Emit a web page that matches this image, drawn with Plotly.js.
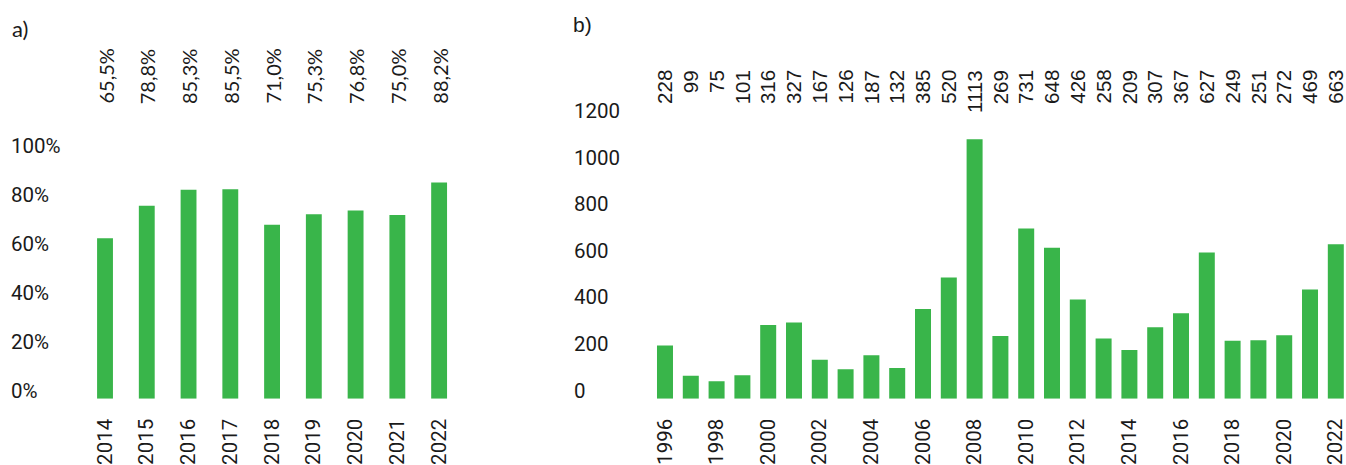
<!DOCTYPE html>
<html>
<head>
<meta charset="utf-8">
<script src="https://cdn.plot.ly/plotly-3.0.1.min.js"></script>
<style>
  html, body { margin: 0; padding: 0; background: #ffffff; }
  #chart { width: 1346px; height: 465px; }
</style>
</head>
<body>
<div id="chart"></div>
<script>
// ---- Data ----
const yearsA = [2014, 2015, 2016, 2017, 2018, 2019, 2020, 2021, 2022];
const sharesA = [65.5, 78.8, 85.3, 85.5, 71.0, 75.3, 76.8, 75.0, 88.2];

const yearsB = [1996, 1997, 1998, 1999, 2000, 2001, 2002, 2003, 2004, 2005,
                2006, 2007, 2008, 2009, 2010, 2011, 2012, 2013, 2014, 2015,
                2016, 2017, 2018, 2019, 2020, 2021, 2022];
const countsB = [228, 99, 75, 101, 316, 327, 167, 126, 187, 132,
                 385, 520, 1113, 269, 731, 648, 426, 258, 209, 307,
                 367, 627, 249, 251, 272, 469, 663];
const tickYearsB = [1996, 1998, 2000, 2002, 2004, 2006, 2008, 2010, 2012,
                    2014, 2016, 2018, 2020, 2022];

const panelLabels = ['a)', 'b)'];

// ---- Styles ----
const GREEN = '#39b54a';
const TEXT = '#1a1a1a';
const TICK_FONT = { family: 'Roboto, sans-serif', size: 20.5, color: TEXT };

const fmtPct = v => v.toFixed(1).replace('.', ',') + '%';

const traces = [
  {
    type: 'bar', x: yearsA, y: sharesA, xaxis: 'x', yaxis: 'y',
    marker: { color: GREEN }, width: 0.38, hoverinfo: 'skip'
  },
  {
    type: 'bar', x: yearsB, y: countsB, xaxis: 'x2', yaxis: 'y2',
    marker: { color: GREEN }, width: 0.62, hoverinfo: 'skip'
  }
];

const annotations = [];
yearsA.forEach((yr, i) => {
  annotations.push({
    x: yr, y: 0.772, xref: 'x', yref: 'paper',
    text: fmtPct(sharesA[i]), textangle: -90, showarrow: false,
    xanchor: 'center', yanchor: 'bottom',
    font: { family: 'Lato, sans-serif', size: 20, color: TEXT }
  });
});
yearsB.forEach((yr, i) => {
  annotations.push({
    x: yr, y: 0.854, xref: 'x2', yref: 'paper',
    text: String(countsB[i]), textangle: -90, showarrow: false,
    xanchor: 'center', yanchor: 'top',
    font: { family: 'Liberation Sans, Arial, sans-serif', size: 20.5, color: TEXT }
  });
});
annotations.push({
  x: 0.0074, y: 1 - 13 / 465, xref: 'paper', yref: 'paper', xanchor: 'left', yanchor: 'top',
  text: panelLabels[0], showarrow: false,
  font: { family: 'Lato, sans-serif', size: 22, color: TEXT }
});
annotations.push({
  x: 571 / 1346, y: 1 - 11 / 465, xref: 'paper', yref: 'paper', xanchor: 'left', yanchor: 'top',
  text: panelLabels[1], showarrow: false,
  font: { family: 'Liberation Sans, Arial, sans-serif', size: 21, color: TEXT }
});

const yBottom = (465 - 398.7) / 465;

const layout = {
  width: 1346, height: 465,
  margin: { l: 0, r: 0, t: 0, b: 0, pad: 0 },
  paper_bgcolor: 'rgba(0,0,0,0)', plot_bgcolor: 'rgba(0,0,0,0)',
  showlegend: false,
  xaxis: {
    domain: [8 / 1346, 460 / 1346], anchor: 'y',
    range: [2014 - 2.323, 2022.5],
    tickmode: 'array', tickvals: yearsA, ticklabeloverflow: 'allow',
    tickangle: -90, tickfont: TICK_FONT, ticks: '', showgrid: false,
    zeroline: false, showline: false, ticklabelstandoff: 15
  },
  yaxis: {
    domain: [yBottom, (465 - 115) / 465], anchor: 'x',
    range: [0, (398.7 - 115) / 2.45],
    tickmode: 'linear', tick0: 0, dtick: 20, ticksuffix: '%',
    ticklabelposition: 'inside top', ticklabelshift: 6, ticklabeloverflow: 'allow',
    tickfont: TICK_FONT, ticks: '',
    showgrid: false, zeroline: false, showline: false
  },
  xaxis2: {
    domain: [571 / 1346, 1], anchor: 'y2',
    range: [1996 - 3.643, 2022.395],
    tickmode: 'array', tickvals: tickYearsB, ticklabeloverflow: 'allow',
    tickangle: -90, tickfont: TICK_FONT, ticks: '', showgrid: false,
    zeroline: false, showline: false, ticklabelstandoff: 15
  },
  yaxis2: {
    domain: [yBottom, (465 - 88) / 465], anchor: 'x2',
    range: [0, (398.7 - 88) / 0.233],
    tickmode: 'linear', tick0: 0, dtick: 200,
    ticklabelposition: 'inside top', ticklabelshift: 6, ticklabeloverflow: 'allow',
    tickfont: TICK_FONT, ticks: '',
    showgrid: false, zeroline: false, showline: false
  },
  annotations: annotations
};

Plotly.newPlot('chart', traces, layout, { staticPlot: true, displayModeBar: false });
</script>
</body>
</html>
